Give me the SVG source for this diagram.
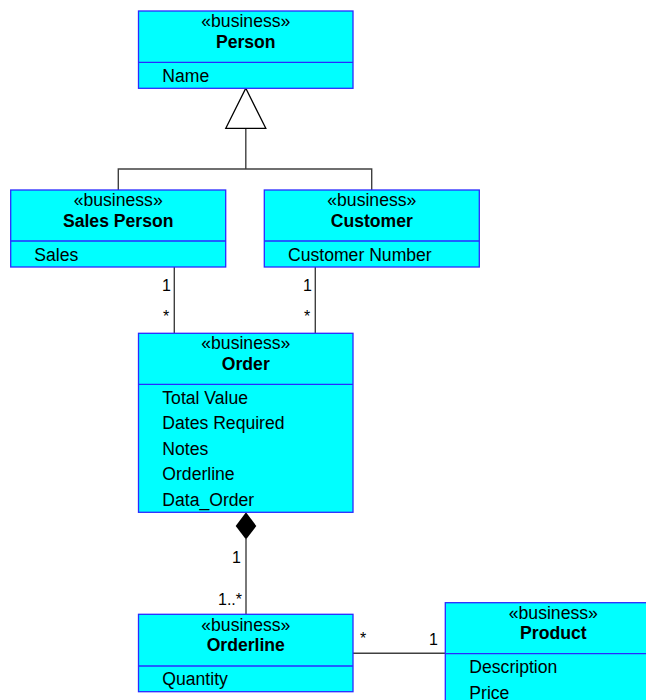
<svg xmlns="http://www.w3.org/2000/svg" width="646" height="700" viewBox="0 0 646 700">
  <style>
    .box { fill: #00ffff; stroke: #2a2aff; stroke-width: 1.3; }
    .div { stroke: #2a2aff; stroke-width: 1.3; }
    text { font-family: "Liberation Sans", Arial, sans-serif; font-size: 17.6px; fill: #000; }
    .c { text-anchor: middle; }
    .b { font-weight: bold; }
    .ln { stroke: #404040; stroke-width: 1.4; fill: none; }
    .lbl { font-size: 16px; }
  </style>
  <rect width="646" height="700" fill="#fff"/>

  <g id="connectors">
    <!-- generalization to Person -->
    <path class="ln" d="M118.3 190 V169 H371.7 V190 M245.8 169 V128.3"/>
    <polygon points="245.8,88.3 265.8,128.3 225.8,128.3" fill="#fff" stroke="#000" stroke-width="1.3"/>
    <!-- Sales Person - Order -->
    <line class="ln" x1="174.3" y1="267" x2="174.3" y2="333.3"/>
    <text class="lbl" x="162" y="291">1</text>
    <text class="lbl" x="163" y="322">*</text>
    <!-- Customer - Order -->
    <line class="ln" x1="315.3" y1="267" x2="315.3" y2="333.3"/>
    <text class="lbl" x="303" y="291">1</text>
    <text class="lbl" x="304" y="322">*</text>
    <!-- Order composition Orderline -->
    <line class="ln" x1="246" y1="539" x2="246" y2="614.3"/>
    <polygon points="246,512.3 256.3,526 246,539.5 235.7,526" fill="#000"/>
    <text class="lbl" x="232" y="563">1</text>
    <text class="lbl" x="218" y="605">1..*</text>
    <!-- Orderline - Product -->
    <line class="ln" x1="353" y1="653.3" x2="445.3" y2="653.3"/>
    <text class="lbl" x="360" y="644">*</text>
    <text class="lbl" x="429" y="645">1</text>
  </g>

  <g id="person">
    <rect class="box" x="138.5" y="11" width="214.5" height="77.3"/>
    <line class="div" x1="138.5" y1="62.3" x2="353" y2="62.3"/>
    <text class="c" x="245.8" y="27">«business»</text>
    <text class="c b" x="245.8" y="47.5">Person</text>
    <text x="162.3" y="82">Name</text>
  </g>

  <g id="sales-person">
    <rect class="box" x="10.7" y="190" width="215" height="77"/>
    <line class="div" x1="10.7" y1="241" x2="225.7" y2="241"/>
    <text class="c" x="118.2" y="206">«business»</text>
    <text class="c b" x="118.2" y="226.7">Sales Person</text>
    <text x="34.3" y="260.5">Sales</text>
  </g>

  <g id="customer">
    <rect class="box" x="264.3" y="190" width="215" height="77"/>
    <line class="div" x1="264.3" y1="241" x2="479.3" y2="241"/>
    <text class="c" x="371.8" y="206">«business»</text>
    <text class="c b" x="371.8" y="226.7">Customer</text>
    <text x="288" y="260.5">Customer Number</text>
  </g>

  <g id="order">
    <rect class="box" x="138.5" y="333.3" width="214.5" height="179"/>
    <line class="div" x1="138.5" y1="384.3" x2="353" y2="384.3"/>
    <text class="c" x="245.8" y="349">«business»</text>
    <text class="c b" x="245.8" y="369.5">Order</text>
    <text x="162.3" y="403.5">Total Value</text>
    <text x="162.3" y="429">Dates Required</text>
    <text x="162.3" y="454.5">Notes</text>
    <text x="162.3" y="480">Orderline</text>
    <text x="162.3" y="505.5">Data_Order</text>
  </g>

  <g id="orderline">
    <rect class="box" x="138.5" y="614.3" width="214.5" height="77.4"/>
    <line class="div" x1="138.5" y1="666" x2="353" y2="666"/>
    <text class="c" x="245.8" y="630.5">«business»</text>
    <text class="c b" x="245.8" y="651">Orderline</text>
    <text x="162.3" y="685">Quantity</text>
  </g>

  <g id="product">
    <rect class="box" x="445.3" y="602.7" width="216" height="120"/>
    <line class="div" x1="445.3" y1="653.7" x2="661.3" y2="653.7"/>
    <text class="c" x="553.3" y="618.5">«business»</text>
    <text class="c b" x="553.3" y="639">Product</text>
    <text x="469.3" y="673">Description</text>
    <text x="469.3" y="698.5">Price</text>
  </g>
</svg>
